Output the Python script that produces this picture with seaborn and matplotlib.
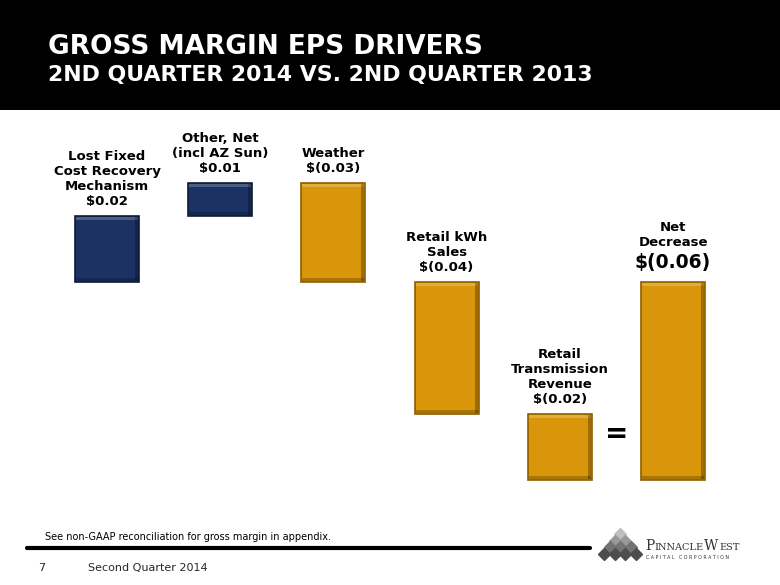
import matplotlib
matplotlib.use("Agg")
import matplotlib.pyplot as plt
from matplotlib.patches import Rectangle
import seaborn as sns
import pandas as pd
import numpy as np

# ---- data ----
categories = ["Lost Fixed\nCost Recovery\nMechanism", "Other, Net\n(incl AZ Sun)", "Weather",
              "Retail kWh\nSales", "Retail\nTransmission\nRevenue", "Net\nDecrease"]
changes = [0.02, 0.01, -0.03, -0.04, -0.02, -0.06]
bottoms = [0.00, 0.02, 0.03, 0.00, -0.04, 0.00]
amount_labels = ["$0.02", "$0.01", "$(0.03)", "$(0.04)", "$(0.02)", "$(0.06)"]
kinds = ["up", "up", "down", "down", "down", "down"]

NAVY = "#1C3262"
GOLD = "#D9960A"
EDGE = {"up": "#0E1A38", "down": "#8C5E00"}
FILL = {"up": NAVY, "down": GOLD}

sns.set_theme(style="white")
plt.rcParams["font.family"] = ["DejaVu Sans"]

W, H = 780, 585
fig = plt.figure(figsize=(W / 100, H / 100), dpi=100)
fig.patch.set_facecolor("white")

# header band
fig.patches.append(Rectangle((0, 1 - 110 / H), 1, 110 / H, transform=fig.transFigure,
                             facecolor="black", edgecolor="none", zorder=0))
fig.text(48 / W, 1 - 54 / H, "GROSS MARGIN EPS DRIVERS", color="white", fontsize=19,
         fontweight="bold", ha="left", va="baseline")
fig.text(48 / W, 1 - 81 / H, "2ND QUARTER 2014 VS. 2ND QUARTER 2013", color="white",
         fontsize=15.8, fontweight="bold", ha="left", va="baseline")

# chart axes
ax = fig.add_axes([0, (H - 505) / H, 1, 390 / H])
df = pd.DataFrame({"category": categories, "change": changes})
sns.barplot(data=df, x="category", y="change", order=categories, color=NAVY,
            errorbar=None, width=0.566, bottom=bottoms, ax=ax, linewidth=1.2,
            saturation=1)
ax.set_xlim(-107 / 113.2, (780 - 107) / 113.2)
ax.set_ylim(-0.0676, 0.0506)
ax.axis("off")

# colour and bevel bars
fig.canvas.draw()
px_x = 1 / 113.2
px_y = 0.01 / 33
for patch, kind in zip(ax.patches, kinds):
    patch.set_facecolor(FILL[kind])
    patch.set_edgecolor(EDGE[kind])
    x0, y0 = patch.get_x(), patch.get_y()
    w, h = patch.get_width(), patch.get_height()
    if h < 0:
        y0, h = y0 + h, -h
    b = 4
    ax.add_patch(Rectangle((x0 + px_x, y0 + h - b * px_y), w - 2 * px_x, b * px_y - px_y,
                           facecolor="white", alpha=0.22, edgecolor="none", zorder=3))
    ax.add_patch(Rectangle((x0 + w - b * px_x, y0 + px_y), b * px_x - px_x, h - 2 * px_y,
                           facecolor="black", alpha=0.28, edgecolor="none", zorder=3))
    ax.add_patch(Rectangle((x0 + px_x, y0 + px_y), w - 2 * px_x, b * px_y - px_y,
                           facecolor="black", alpha=0.22, edgecolor="none", zorder=3))

# labels
for i, (cat, amt, ch, bt) in enumerate(zip(categories, amount_labels, changes, bottoms)):
    top = max(bt, bt + ch)
    if i == len(categories) - 1:
        ax.annotate(amt, (i, top), xytext=(0, 7), textcoords="offset points", ha="center",
                    va="bottom", fontsize=13.5, fontweight="bold", color="black")
        ax.annotate(cat, (i, top), xytext=(0, 24), textcoords="offset points", ha="center",
                    va="bottom", fontsize=9.5, fontweight="bold", color="black",
                    linespacing=1.2)
    else:
        ax.annotate(cat + "\n" + amt, (i, top), xytext=(0, 6), textcoords="offset points",
                    ha="center", va="bottom", fontsize=9.5, fontweight="bold", color="black",
                    linespacing=1.2)

# equals sign between last two bars
ax.text(4.5, bottoms[4] - 0.006, "=", ha="center", va="center", fontsize=20,
        fontweight="bold", color="black")

# footer
fig.text(45 / W, 1 - 540 / H, "See non-GAAP reconciliation for gross margin in appendix.",
         fontsize=7, ha="left", va="baseline", color="black")
fig.add_artist(plt.Line2D([27 / W, 590 / W], [1 - 547.5 / H, 1 - 547.5 / H],
                          transform=fig.transFigure, color="black", linewidth=3))
fig.text(38 / W, 1 - 571 / H, "7", fontsize=8, ha="left", va="baseline")
fig.text(88 / W, 1 - 571 / H, "Second Quarter 2014", fontsize=8, ha="left", va="baseline")

# logo
rows = [1, 2, 3, 4]
for r, n in enumerate(rows):
    for k in range(n):
        cx = 620 + (k - (n - 1) / 2) * 10.5
        cy = 534 + r * 6.5
        shade = 0.75 - 0.15 * r
        fig.add_artist(plt.Line2D([cx / W], [1 - cy / H], marker="D", markersize=6.5,
                                  color=str(max(shade, 0.15)), transform=fig.transFigure,
                                  linestyle="none"))
t = fig.text(645 / W, 1 - 550 / H, "P", fontsize=10, family="DejaVu Serif",
             ha="left", va="baseline", color="#333333")
for piece, size in [("INNACLE", 7), ("W", 10), ("EST", 7)]:
    t = fig.text(0, 0, piece, fontsize=size, family="DejaVu Serif", color="#333333",
                 ha="left", va="baseline")
    fig.canvas.draw()
    prev = fig.texts[-2].get_window_extent()
    fx = (prev.x1 + 0.5) / W
    t.set_position((fx, 1 - 550 / H))
fig.text(646 / W, 1 - 559 / H, "C A P I T A L   C O R P O R A T I O N", fontsize=3.4,
         ha="left", va="baseline", color="#333333")

fig.savefig("out.png", dpi=100)
